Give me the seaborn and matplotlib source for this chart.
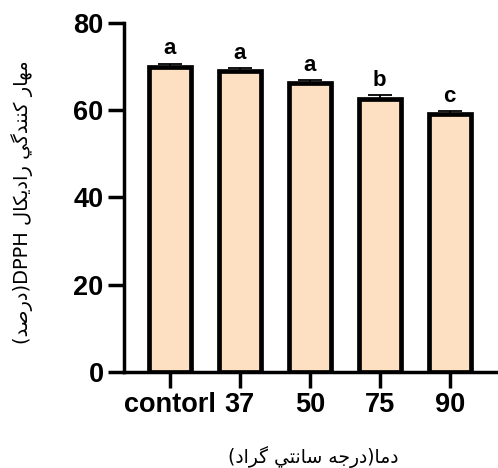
import numpy as np
import pandas as pd
import matplotlib
matplotlib.use("Agg")
import matplotlib.pyplot as plt
import seaborn as sns

# --- data -------------------------------------------------------------
categories = ["contorl", "37", "50", "75", "90"]
inhibition = [69.8, 68.9, 66.3, 62.5, 59.1]
sem = [0.9, 0.8, 0.6, 0.9, 0.6]
letters = ["a", "a", "a", "b", "c"]
y_ticks = [0, 20, 40, 60, 80]

x_title = "دما(درجه سانتي گراد)"
y_title = "مهار كنندگي راديكال DPPH(درصد)"

# --- minimal Arabic-script shaping (contextual forms + visual order) ---
FORMS = {
    # letter: (isolated, final, initial, medial); None = does not join forward
    "ا": ("\uFE8D", "\uFE8E", None, None),
    "د": ("\uFEA9", "\uFEAA", None, None),
    "ر": ("\uFEAD", "\uFEAE", None, None),
    "ت": ("\uFE95", "\uFE96", "\uFE97", "\uFE98"),
    "ج": ("\uFE9D", "\uFE9E", "\uFE9F", "\uFEA0"),
    "س": ("\uFEB1", "\uFEB2", "\uFEB3", "\uFEB4"),
    "ص": ("\uFEB9", "\uFEBA", "\uFEBB", "\uFEBC"),
    "ك": ("\uFED9", "\uFEDA", "\uFEDB", "\uFEDC"),
    "ل": ("\uFEDD", "\uFEDE", "\uFEDF", "\uFEE0"),
    "م": ("\uFEE1", "\uFEE2", "\uFEE3", "\uFEE4"),
    "ن": ("\uFEE5", "\uFEE6", "\uFEE7", "\uFEE8"),
    "ه": ("\uFEE9", "\uFEEA", "\uFEEB", "\uFEEC"),
    "ي": ("\uFEF1", "\uFEF2", "\uFEF3", "\uFEF4"),
    "گ": ("\uFB92", "\uFB93", "\uFB94", "\uFB95"),
}


def shape(text):
    out = []
    for i, ch in enumerate(text):
        if ch not in FORMS:
            out.append(ch)
            continue
        prev = text[i - 1] if i > 0 else ""
        nxt = text[i + 1] if i + 1 < len(text) else ""
        join_prev = prev in FORMS and FORMS[prev][2] is not None
        join_next = nxt in FORMS and FORMS[ch][2] is not None
        iso, fin, ini, med = FORMS[ch]
        if join_prev and join_next:
            out.append(med)
        elif join_prev:
            out.append(fin)
        elif join_next:
            out.append(ini)
        else:
            out.append(iso)
    shaped = "".join(out)
    # visual order: reverse, mirror brackets, keep Latin runs left-to-right
    rev = shaped[::-1].translate(str.maketrans("()", ")("))
    result, run = [], []
    for ch in rev:
        if ch.isascii() and ch.isalnum():
            run.append(ch)
        else:
            if run:
                result.append("".join(run[::-1]))
                run = []
            result.append(ch)
    if run:
        result.append("".join(run[::-1]))
    return "".join(result)


# --- figure -------------------------------------------------------------
sns.set_theme(style="ticks")
plt.rcParams["font.family"] = ["Liberation Sans", "DejaVu Sans"]

fig = plt.figure(figsize=(4.98, 4.68), dpi=100)
ax = fig.add_axes([123.7 / 498, 96.3 / 468, (498 - 123.7) / 498, (371.7 - 23) / 468])

df = pd.DataFrame({"group": categories, "value": inhibition})
sns.barplot(data=df, x="group", y="value", color="#FDE0C2", saturation=1,
            edgecolor="black", linewidth=3.4, width=0.6, errorbar=None,
            ax=ax, zorder=3)

xpos = np.arange(len(categories))
ax.errorbar(xpos, inhibition, yerr=[np.zeros(len(sem)), sem], fmt="none",
            ecolor="black", elinewidth=1.3, capsize=8.3, capthick=1.3, zorder=2)

for x, v, e, t in zip(xpos, inhibition, sem, letters):
    ax.text(x, v + e + 1.0, t, ha="center", va="bottom",
            fontsize=16, fontweight="bold", color="black")

ax.set_ylim(0, 80)
ax.set_xlim(-0.66, 4.69)
ax.set_yticks(y_ticks)
ax.set_yticklabels([str(t) for t in y_ticks])

for side in ("top", "right"):
    ax.spines[side].set_visible(False)
for side in ("left", "bottom"):
    ax.spines[side].set_linewidth(2.5)
    ax.spines[side].set_color("black")

ax.tick_params(axis="both", which="major", length=11.5, width=2.5,
               color="black", labelcolor="black", pad=3)
for lab in ax.get_xticklabels() + ax.get_yticklabels():
    lab.set_fontsize(19.5)
    lab.set_fontweight("bold")

ax.set_xlabel("")
ax.set_ylabel("")
fig.text(313 / 498, 1 - 457 / 468, shape(x_title), ha="center", va="center",
         fontsize=13.5, family=["DejaVu Sans"], color="black")
fig.text(22 / 498, 1 - 202 / 468, shape(y_title), ha="center", va="center",
         rotation=90, fontsize=14, family=["DejaVu Sans"], color="black")

fig.savefig("out.png", dpi=100)
